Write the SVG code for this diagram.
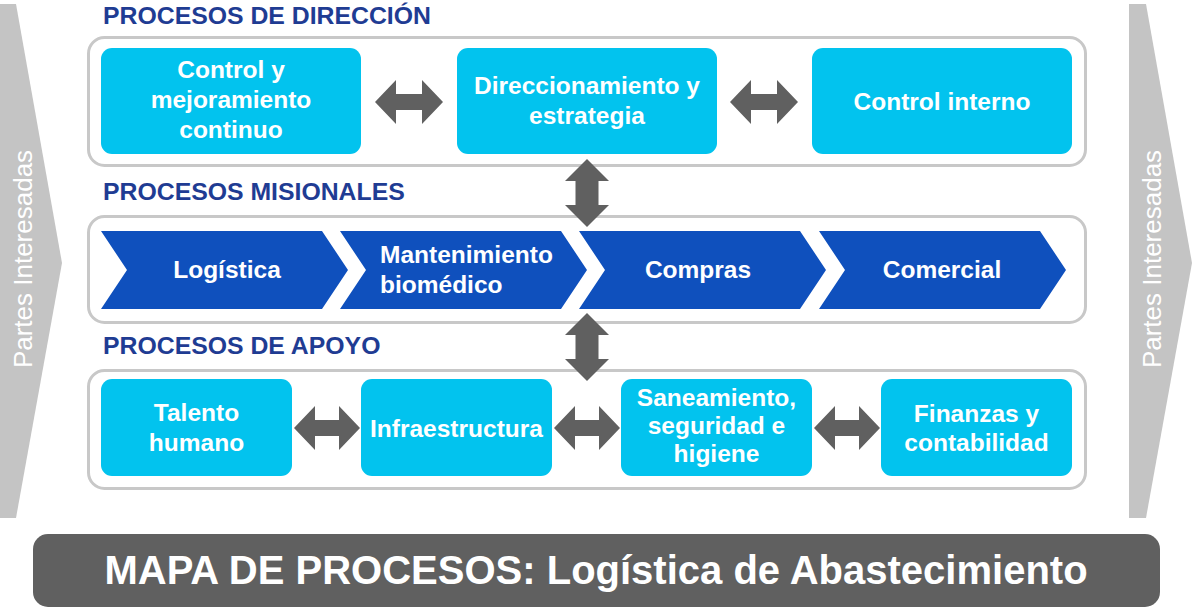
<svg xmlns="http://www.w3.org/2000/svg" width="1192" height="609" viewBox="0 0 1192 609">
<style>
.band{fill:#c4c4c4}
.bandtxt{font-family:"Liberation Sans",Arial,sans-serif;font-size:26px;fill:#ffffff;text-anchor:middle}
.head{font-family:"Liberation Sans",Arial,sans-serif;font-size:24.8px;font-weight:bold;fill:#1f3c93}
.cont{fill:#ffffff;stroke:#c8c8c8;stroke-width:3}
.box{fill:#02c3ee}
.chev{fill:#0f50bd}
.lbl{font-family:"Liberation Sans",Arial,sans-serif;font-size:24.5px;font-weight:bold;fill:#ffffff;text-anchor:middle}
.lbll{font-family:"Liberation Sans",Arial,sans-serif;font-size:24.5px;font-weight:bold;fill:#ffffff}
.arr{fill:#606060}
.title{font-family:"Liberation Sans",Arial,sans-serif;font-size:40px;font-weight:bold;fill:#ffffff;text-anchor:middle}
</style>
<rect width="1192" height="609" fill="#ffffff"/>

<g id="band-left">
<polygon class="band" points="0,4 16,4 62,263 16,518 0,518"/>
<text class="bandtxt" transform="translate(31.5,259) rotate(-90)">Partes Interesadas</text>
</g>
<g id="band-right">
<polygon class="band" points="1129,4 1146,4 1192,263 1146,518 1129,518"/>
<text class="bandtxt" transform="translate(1160.5,259) rotate(-90)">Partes Interesadas</text>
</g>

<g id="group-direccion">
<text class="head" x="103" y="24">PROCESOS DE DIRECCIÓN</text>
<rect class="cont" x="88.5" y="37.5" width="997" height="128" rx="16"/>
</g>
<g id="group-misionales">
<text class="head" x="103" y="200">PROCESOS MISIONALES</text>
<rect class="cont" x="88.5" y="216.5" width="997" height="106" rx="16"/>
</g>
<g id="group-apoyo">
<text class="head" x="103" y="354">PROCESOS DE APOYO</text>
<rect class="cont" x="88.5" y="370.5" width="997" height="118" rx="16"/>
</g>

<g id="connectors">
<path class="arr" d="M375 102 L396 80 L396 94 L422 94 L422 80 L443 102 L422 124 L422 110 L396 110 L396 124 Z"/>
<path class="arr" d="M730 102 L751 80 L751 94 L777 94 L777 80 L798 102 L777 124 L777 110 L751 110 L751 124 Z"/>
<path class="arr" d="M587 159 L609 181 L598.5 181 L598.5 205 L609 205 L587 227 L565 205 L575.5 205 L575.5 181 L565 181 Z"/>
<path class="arr" d="M587 313 L609 335 L598.5 335 L598.5 359 L609 359 L587 381 L565 359 L575.5 359 L575.5 335 L565 335 Z"/>
<path class="arr" d="M294 428 L315 406 L315 420 L339 420 L339 406 L360 428 L339 450 L339 436 L315 436 L315 450 Z"/>
<path class="arr" d="M554 428 L575 406 L575 420 L599 420 L599 406 L620 428 L599 450 L599 436 L575 436 L575 450 Z"/>
<path class="arr" d="M814 428 L835 406 L835 420 L859 420 L859 406 L880 428 L859 450 L859 436 L835 436 L835 450 Z"/>
</g>

<g id="node-control-mejoramiento">
<rect class="box" x="101" y="48" width="260" height="106" rx="11"/>
<text class="lbl" x="231" y="78">Control y</text>
<text class="lbl" x="231" y="108">mejoramiento</text>
<text class="lbl" x="231" y="138">continuo</text>
</g>
<g id="node-direccionamiento">
<rect class="box" x="457" y="48" width="260" height="106" rx="11"/>
<text class="lbl" x="587" y="94">Direccionamiento y</text>
<text class="lbl" x="587" y="124">estrategia</text>
</g>
<g id="node-control-interno">
<rect class="box" x="812" y="48" width="260" height="106" rx="11"/>
<text class="lbl" x="942" y="110">Control interno</text>
</g>

<g id="node-logistica">
<polygon class="chev" points="101,231 322,231 348,270 322,309 101,309 127,270"/>
<text class="lbl" x="227" y="278">Logística</text>
</g>
<g id="node-mantenimiento">
<polygon class="chev" points="340,231 561,231 587,270 561,309 340,309 366,270"/>
<text class="lbll" x="380" y="263">Mantenimiento</text>
<text class="lbll" x="380" y="293">biomédico</text>
</g>
<g id="node-compras">
<polygon class="chev" points="579,231 800,231 826,270 800,309 579,309 605,270"/>
<text class="lbl" x="698" y="278">Compras</text>
</g>
<g id="node-comercial">
<polygon class="chev" points="819,231 1040,231 1066,270 1040,309 819,309 845,270"/>
<text class="lbl" x="942" y="278">Comercial</text>
</g>

<g id="node-talento">
<rect class="box" x="101" y="379" width="191" height="97" rx="11"/>
<text class="lbl" x="196.5" y="421">Talento</text>
<text class="lbl" x="196.5" y="451">humano</text>
</g>
<g id="node-infraestructura">
<rect class="box" x="361" y="379" width="191" height="97" rx="11"/>
<text class="lbl" x="456.5" y="437">Infraestructura</text>
</g>
<g id="node-saneamiento">
<rect class="box" x="621" y="379" width="191" height="97" rx="11"/>
<text class="lbl" x="716.5" y="406">Saneamiento,</text>
<text class="lbl" x="716.5" y="434">seguridad e</text>
<text class="lbl" x="716.5" y="462">higiene</text>
</g>
<g id="node-finanzas">
<rect class="box" x="881" y="379" width="191" height="97" rx="11"/>
<text class="lbl" x="976.5" y="422">Finanzas y</text>
<text class="lbl" x="976.5" y="451">contabilidad</text>
</g>

<g id="title-bar">
<rect x="33" y="534" width="1127" height="73" rx="15" fill="#606060"/>
<text class="title" x="596" y="584">MAPA DE PROCESOS: Logística de Abastecimiento</text>
</g>
</svg>
